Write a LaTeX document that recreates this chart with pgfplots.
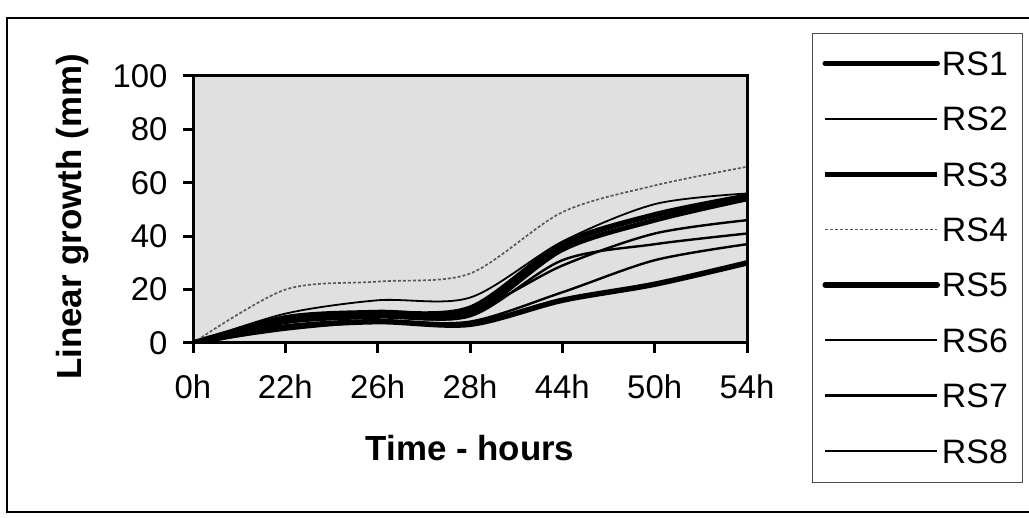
\documentclass[border=0pt]{standalone}
\usepackage{pgfplots}
\pgfplotsset{compat=1.18}
\usepackage{fontspec}
\setmainfont{Liberation Sans}
\begin{document}
\begin{tikzpicture}
\useasboundingbox (0bp,0bp) rectangle (1029bp,518bp);
\draw[line width=2.5bp] (1040bp,500bp) -- (7bp,500bp) -- (7bp,6bp) -- (1040bp,6bp);
\begin{axis}[
  at={(193bp,175bp)}, anchor=south west,
  scale only axis, width=554bp, height=267bp,
  xmin=0, xmax=6, ymin=0, ymax=100,
  xtick={0,1,2,3,4,5,6},
  xticklabels={0h,22h,26h,28h,44h,50h,54h},
  ytick={0,20,40,60,80,100},
  tick align=outside,
  xtick pos=left, ytick pos=left,
  major tick length=10bp,
  tick style={black, line width=3bp},
  axis line style={line width=3bp, black},
  axis background/.style={fill=black!12, draw=black, line width=3bp},
  tick label style={font=\fontsize{33}{39}\selectfont},
  xticklabel style={anchor=north, yshift=-18bp},
  yticklabel style={anchor=east, xshift=-12bp},
  /pgf/number format/assume math mode=true,
  xlabel={Time - hours},
  ylabel={Linear growth (mm)},
  label style={font=\bfseries\fontsize{35}{41}\selectfont},
  xlabel style={at={(axis description cs:0.5,-0.393)}, anchor=center},
  ylabel style={at={(axis description cs:-0.218,0.472)}, anchor=center},
  legend image code/.code={\draw[#1] (0bp,12bp) -- (112bp,12bp);},
  legend style={at={(axis description cs:1.1173,1.161)}, anchor=north west,
    draw=black!70, line width=1bp, fill=white,
    inner xsep=10bp, inner ysep=3bp, row sep=0pt, column sep=2bp,
    font=\fontsize{34}{40}\selectfont,
    nodes={inner sep=0pt, minimum height=55.4bp, anchor=base west, font=\fontsize{34}{40}\selectfont}},
  legend cell align=left,
]
\addplot[black, line width=5.5bp, smooth, tension=0.5, line cap=round, line join=round]
  coordinates {(0,0) (1,9) (2,11) (3,13) (4,37) (5,48) (6,55)};
\addlegendentry{RS1\hspace*{5bp}}
\addplot[black, line width=1.8bp, smooth, tension=0.5]
  coordinates {(0,0) (1,11) (2,16) (3,17) (4,38) (5,52) (6,56)};
\addlegendentry{RS2}
\addplot[black, line width=5bp, smooth, tension=0.5, line join=round]
  coordinates {(0,0) (1,8) (2,10) (3,11) (4,35) (5,46) (6,54)};
\addlegendentry{RS3}
\addplot[black!65, line width=1.7bp, dash pattern=on 3bp off 2bp, smooth, tension=0.5]
  coordinates {(0,0) (1,20) (2,23) (3,26) (4,49) (5,59) (6,66)};
\addlegendentry{RS4}
\addplot[black, line width=5.5bp, smooth, tension=0.5, line cap=round, line join=round]
  coordinates {(0,0) (1,6) (2,8) (3,7) (4,16) (5,22) (6,30)};
\addlegendentry{RS5}
\addplot[black, line width=2.4bp, smooth, tension=0.5]
  coordinates {(0,0) (1,10) (2,12) (3,12) (4,29) (5,41) (6,46)};
\addlegendentry{RS6}
\addplot[black, line width=2.4bp, smooth, tension=0.5]
  coordinates {(0,0) (1,8) (2,10) (3,10) (4,31) (5,37) (6,41)};
\addlegendentry{RS7}
\addplot[black, line width=2.4bp, smooth, tension=0.5]
  coordinates {(0,0) (1,5) (2,8) (3,8) (4,19) (5,31) (6,37)};
\addlegendentry{RS8}
\end{axis}
\end{tikzpicture}
\end{document}
